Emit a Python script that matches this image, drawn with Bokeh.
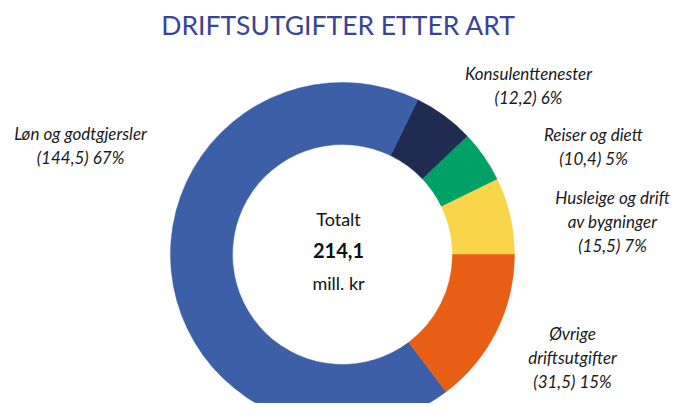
import math
from bokeh.plotting import figure
from bokeh.models import Range1d, ColumnDataSource
from bokeh.core.properties import value
from bokeh.embed import file_html
from bokeh.resources import INLINE

# ---- data ----
title_text = "DRIFTSUTGIFTER ETTER ART"
categories = ["Husleige og drift av bygninger", "Reiser og diett", "Konsulenttenester",
              "Løn og godtgjersler", "Øvrige driftsutgifter"]
values = [15.5, 10.4, 12.2, 144.5, 31.5]
total_label = ["Totalt", "214,1", "mill. kr"]
colors = ["#F9D54A", "#00A166", "#202B52", "#3D5FA8", "#E95E15"]

# label line-splitting for display
label_lines = [["Husleige og drift", "av bygninger"], ["Reiser og diett"], ["Konsulenttenester"],
               ["Løn og godtgjersler"], ["Øvrige", "driftsutgifter"]]
# label anchor (center x, first line y) in screen pixels
label_pos = [(612, 197), (593, 134), (528, 73), (80, 133), (572, 333)]

W, H = 672, 403
cx, cy = 342, 254
R_OUT, R_IN = 172, 110

p = figure(width=W, height=H, output_backend="svg", toolbar_location=None,
           x_range=Range1d(0, W), y_range=Range1d(-H, 0),
           min_border=0, outline_line_color=None)
p.axis.visible = False
p.grid.visible = False
p.background_fill_color = "white"
p.border_fill_color = "white"

total = sum(values)
starts, ends = [], []
acc = 0.0
for v in values:
    starts.append(acc / total * 2 * math.pi)
    acc += v
    ends.append(acc / total * 2 * math.pi)

src = ColumnDataSource(dict(start=starts, end=ends, color=colors))
p.annular_wedge(x=cx, y=-cy, inner_radius=R_IN, outer_radius=R_OUT,
                start_angle="start", end_angle="end", fill_color="color",
                line_color="color", line_width=0.5, source=src)

# title
p.text(x=[cx - 4], y=[-24], text=[title_text], text_font=value("Lato"),
       text_font_size="26.5px", text_color="#3A4494", text_align="center",
       text_baseline="middle")

# labels
LINE = 24
xs, ys, ts = [], [], []
for lines, v, (lx, ly) in zip(label_lines, values, label_pos):
    amt = ("(%.1f)" % v).replace(".", ",")
    pct = "%d%%" % round(v / total * 100)
    all_lines = lines + ["%s %s" % (amt, pct)]
    for i, t in enumerate(all_lines):
        xs.append(lx)
        ys.append(-(ly + i * LINE))
        ts.append(t)
p.text(x=xs, y=ys, text=ts, text_font=value("Lato"), text_font_style="italic",
       text_font_size="17px", text_color="#1a1a1a", text_align="center",
       text_baseline="middle")

# center
ccx = 338
p.text(x=[ccx], y=[-218], text=[total_label[0]], text_font=value("Lato"),
       text_font_size="18px", text_color="#111111", text_align="center", text_baseline="middle")
p.text(x=[ccx], y=[-250], text=[total_label[1]], text_font=value("Lato"),
       text_font_style="bold", text_font_size="20px", text_color="#111111",
       text_align="center", text_baseline="middle")
p.text(x=[ccx], y=[-282], text=[total_label[2]], text_font=value("Lato"),
       text_font_size="18px", text_color="#111111", text_align="center", text_baseline="middle")

open("out.html", "w").write(file_html(p, INLINE))
